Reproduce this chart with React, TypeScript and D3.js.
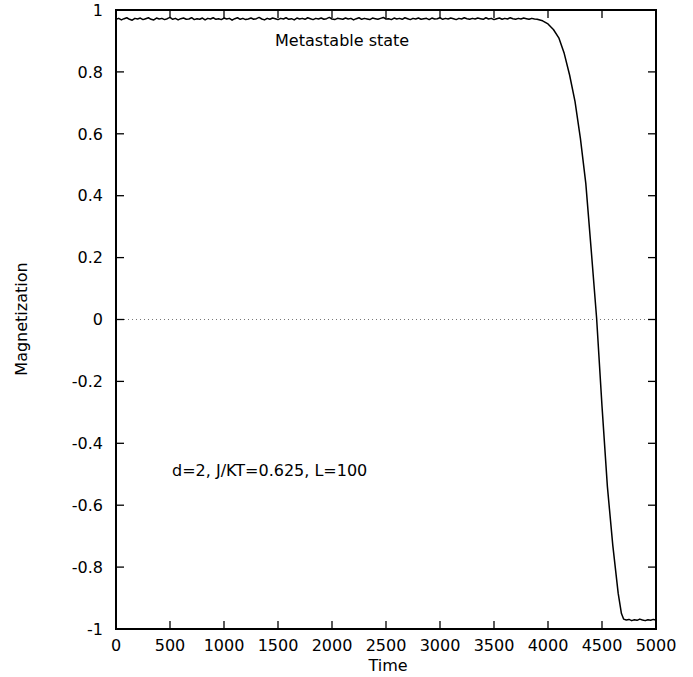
import React from "react";
import * as d3 from "d3";

// ---- data ----
const flatStep = 25;
const flatValues = [
  0.970, 0.973, 0.968, 0.972, 0.975, 0.970, 0.967, 0.973, 0.971, 0.974,
  0.969, 0.972, 0.975, 0.970, 0.968, 0.974, 0.971, 0.973, 0.969, 0.972,
  0.976, 0.970, 0.973, 0.968, 0.972, 0.974, 0.970, 0.971, 0.975, 0.969,
  0.972, 0.970, 0.974, 0.968, 0.973, 0.971, 0.975, 0.970, 0.972, 0.969,
  0.974, 0.971, 0.973, 0.967, 0.972, 0.975, 0.970, 0.973, 0.969, 0.971,
  0.974, 0.970, 0.972, 0.976, 0.971, 0.968, 0.973, 0.970, 0.974, 0.972,
  0.969, 0.973, 0.971, 0.975, 0.970, 0.972, 0.968, 0.974, 0.971, 0.973,
  0.970, 0.975, 0.972, 0.969, 0.973, 0.971, 0.974, 0.970, 0.972, 0.976,
  0.971, 0.969, 0.973, 0.972, 0.970, 0.974, 0.971, 0.973, 0.968, 0.972,
  0.975, 0.970, 0.973, 0.971, 0.969, 0.974, 0.972, 0.970, 0.973, 0.976,
  0.971, 0.972, 0.969, 0.974, 0.971, 0.973, 0.970, 0.975, 0.972, 0.969,
  0.973, 0.971, 0.974, 0.970, 0.972, 0.973, 0.969, 0.974, 0.971, 0.972,
  0.975, 0.970, 0.973, 0.971, 0.974, 0.972, 0.969, 0.973, 0.971, 0.975,
  0.972, 0.970, 0.973, 0.971, 0.974, 0.972, 0.970, 0.975, 0.971, 0.973,
  0.969, 0.972, 0.974, 0.970, 0.973, 0.971, 0.975, 0.972, 0.970, 0.973,
  0.971, 0.974, 0.972, 0.970, 0.973, 0.971,
];
const dropTimes = [3900, 3950, 4000, 4050, 4100, 4150, 4200, 4250, 4300, 4350, 4400, 4450, 4500, 4550, 4600, 4650, 4680, 4700];
const dropValues = [0.970, 0.965, 0.955, 0.937, 0.910, 0.860, 0.790, 0.705, 0.585, 0.440, 0.225, 0.005, -0.280, -0.540, -0.730, -0.885, -0.950, -0.968];
const tailTimes = [4725, 4750, 4775, 4800, 4825, 4850, 4875, 4900, 4925, 4950, 4975, 5000];
const tailValues = [-0.971, -0.969, -0.973, -0.970, -0.972, -0.968, -0.971, -0.973, -0.970, -0.972, -0.969, -0.971];

const xTicks = [0, 500, 1000, 1500, 2000, 2500, 3000, 3500, 4000, 4500, 5000];
const yTicks = [1, 0.8, 0.6, 0.4, 0.2, 0, -0.2, -0.4, -0.6, -0.8, -1];
const yTickLabels = ["1", "0.8", "0.6", "0.4", "0.2", "0", "-0.2", "-0.4", "-0.6", "-0.8", "-1"];

const xLabel = "Time";
const yLabel = "Magnetization";
const note1 = "Metastable state";
const note2 = "d=2, J/KT=0.625, L=100";

export default function App() {
  const W = 693, H = 677;
  const left = 116, right = 656, top = 10, bottom = 629;
  const x = d3.scaleLinear().domain([0, 5000]).range([left, right]);
  const y = d3.scaleLinear().domain([-1, 1]).range([bottom, top]);

  const pts: [number, number][] = [];
  flatValues.forEach((v, i) => pts.push([i * flatStep, v]));
  dropTimes.forEach((t, i) => pts.push([t, dropValues[i]]));
  tailTimes.forEach((t, i) => pts.push([t, tailValues[i]]));

  const line = d3.line<[number, number]>().x((d) => x(d[0])).y((d) => y(d[1]));
  const font = "DejaVu Sans, Liberation Sans, sans-serif";
  const tl = 8;

  return (
    <svg width={W} height={H} style={{ position: "absolute", left: 0, top: 0, background: "#fff" }} fontFamily={font}>
      <rect x={0} y={0} width={W} height={H} fill="#fff" />
      {/* zero dotted line */}
      <line x1={x(0)} x2={x(5000)} y1={y(0)} y2={y(0)} stroke="#777" strokeWidth={1} strokeDasharray="1,3" />
      {/* ticks */}
      {xTicks.map((t) => (
        <g key={"xt" + t}>
          <line x1={x(t)} x2={x(t)} y1={bottom} y2={bottom - tl} stroke="#000" strokeWidth={1.3} />
          <line x1={x(t)} x2={x(t)} y1={top} y2={top + tl} stroke="#000" strokeWidth={1.3} />
          <text x={x(t)} y={651} textAnchor="middle" fontSize={16} fill="#000">{t}</text>
        </g>
      ))}
      {yTicks.map((t, i) => (
        <g key={"yt" + t}>
          <line x1={left} x2={left + tl} y1={y(t)} y2={y(t)} stroke="#000" strokeWidth={1.3} />
          <line x1={right} x2={right - tl} y1={y(t)} y2={y(t)} stroke="#000" strokeWidth={1.3} />
          <text x={103} y={y(t)} dy="0.36em" textAnchor="end" fontSize={16} fill="#000">{yTickLabels[i]}</text>
        </g>
      ))}
      {/* curve */}
      <path d={line(pts) || ""} fill="none" stroke="#000" strokeWidth={1.5} strokeLinejoin="round" />
      {/* frame */}
      <rect x={left} y={top} width={right - left} height={bottom - top} fill="none" stroke="#000" strokeWidth={2} />
      {/* labels */}
      <text x={(left + right) / 2 + 2} y={670.5} textAnchor="middle" fontSize={16} fill="#000">{xLabel}</text>
      <text transform={`translate(27,319) rotate(-90)`} textAnchor="middle" fontSize={16} fill="#000">{yLabel}</text>
      <text x={275} y={46} fontSize={16} fill="#000">{note1}</text>
      <text x={172} y={476} fontSize={16} fill="#000">{note2}</text>
    </svg>
  );
}
